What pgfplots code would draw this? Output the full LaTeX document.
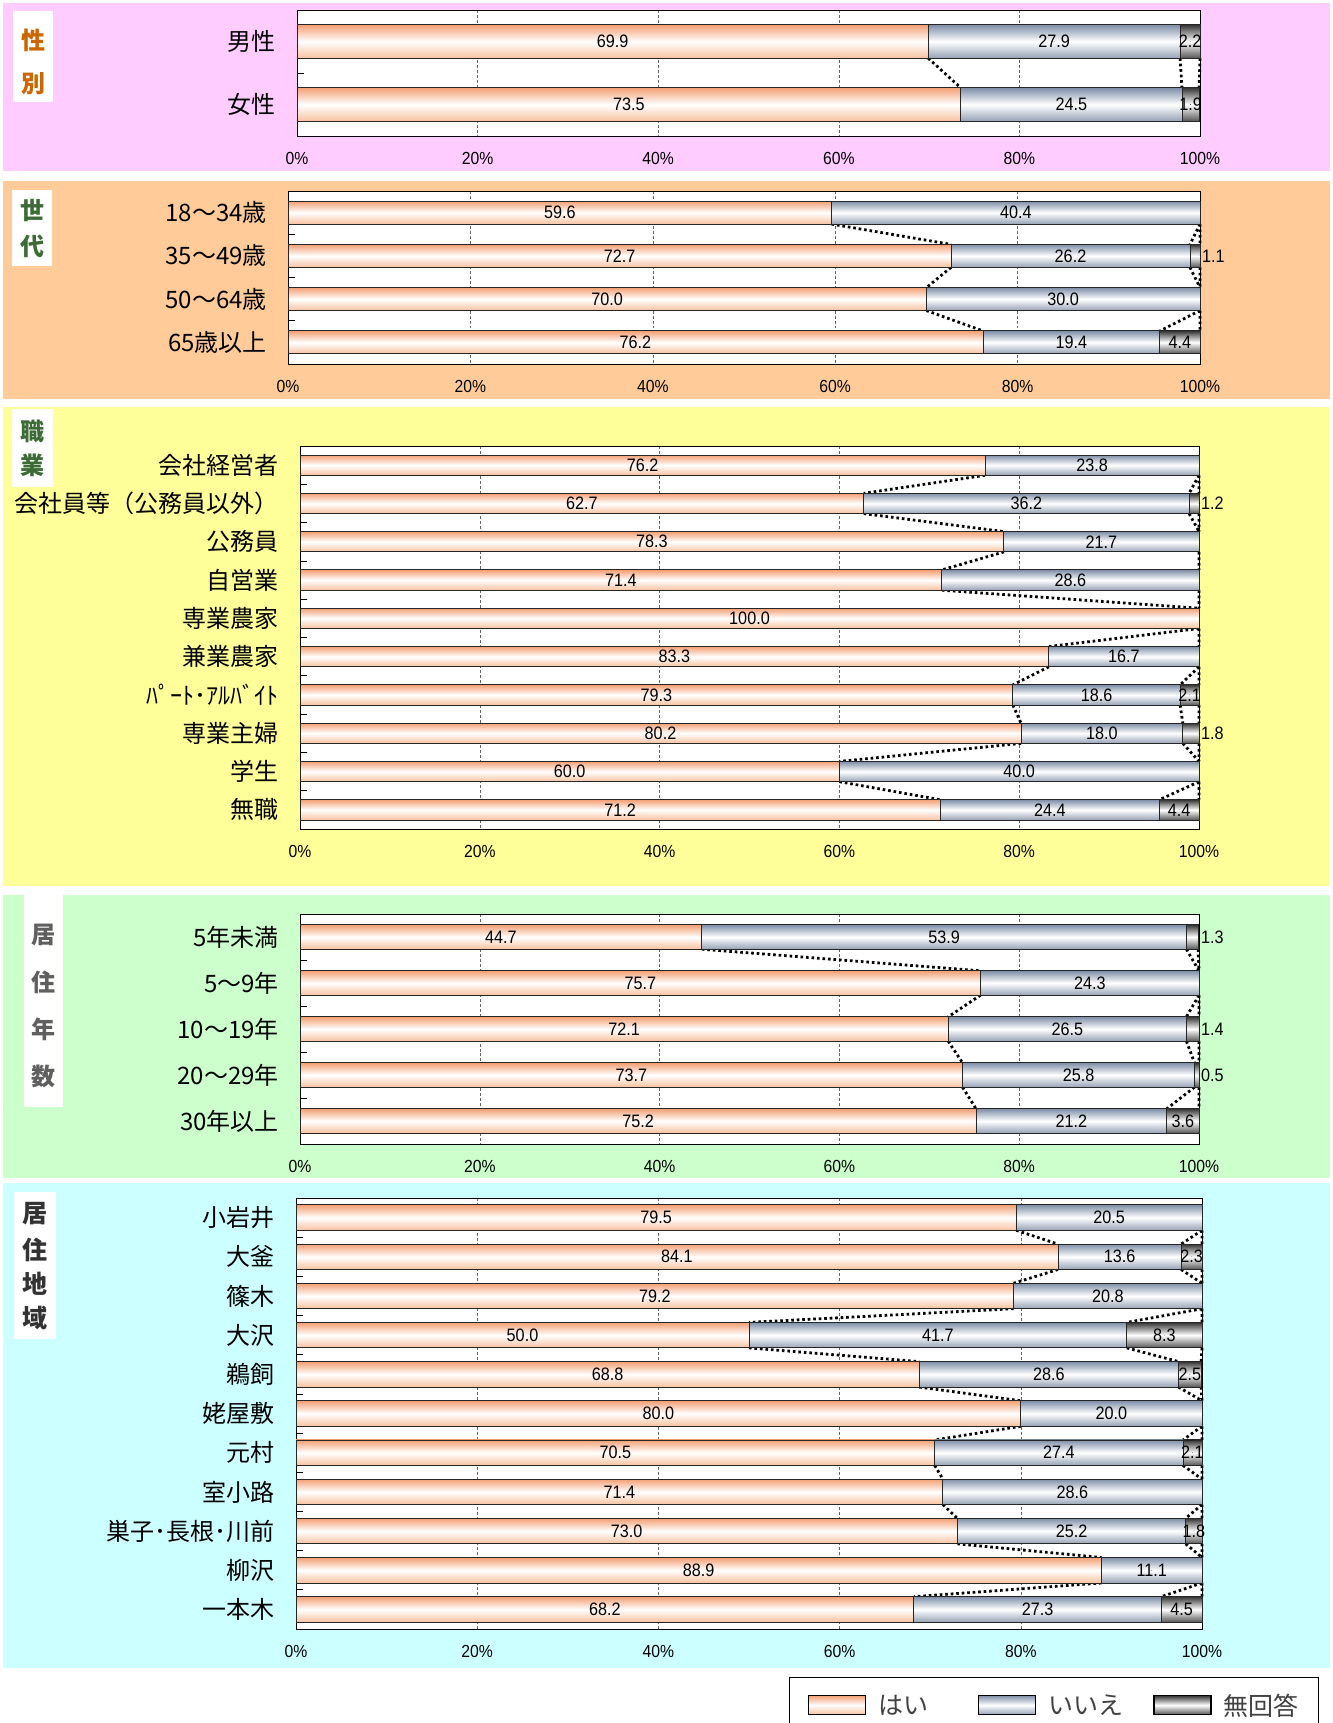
\documentclass[border=0pt]{standalone}
\usepackage{fontspec}
\usepackage{pgfplots}
\usepackage{pgfplotstable}
\pgfplotsset{compat=1.18}
\setmainfont{Noto Sans CJK JP}
\newfontfamily\numfont[FakeStretch=0.9]{Liberation Sans}

\definecolor{bgA}{HTML}{FFCCFF}
\definecolor{bgB}{HTML}{FFCC99}
\definecolor{bgC}{HTML}{FFFF99}
\definecolor{bgD}{HTML}{CCFFCC}
\definecolor{bgE}{HTML}{CCFFFF}
\definecolor{yesT}{HTML}{F3A074}
\definecolor{yesB}{HTML}{F7C2A0}
\definecolor{noT}{HTML}{7F8FA8}
\definecolor{noB}{HTML}{96A2B6}
\definecolor{naT}{HTML}{353535}
\definecolor{naB}{HTML}{555555}
\definecolor{gA}{HTML}{CC6600}
\definecolor{gB}{HTML}{3D6B35}
\definecolor{gD}{HTML}{5F5F5F}
\definecolor{gE}{HTML}{333333}

\pgfplotstableread{
i yes no na nal
0 69.9 27.9 2.2 1
1 73.5 24.5 1.9 1
}\tA
\pgfplotstableread{
i yes no na nal
0 59.6 40.4 0 0
1 72.7 26.2 1.1 2
2 70.0 30.0 0 0
3 76.2 19.4 4.4 1
}\tB
\pgfplotstableread{
i yes no na nal
0 76.2 23.8 0 0
1 62.7 36.2 1.2 2
2 78.3 21.7 0 0
3 71.4 28.6 0 0
4 100.0 0 0 0
5 83.3 16.7 0 0
6 79.3 18.6 2.1 1
7 80.2 18.0 1.8 2
8 60.0 40.0 0 0
9 71.2 24.4 4.4 1
}\tC
\pgfplotstableread{
i yes no na nal
0 44.7 53.9 1.3 2
1 75.7 24.3 0 0
2 72.1 26.5 1.4 2
3 73.7 25.8 0.5 2
4 75.2 21.2 3.6 1
}\tD
\pgfplotstableread{
i yes no na nal
0 79.5 20.5 0 0
1 84.1 13.6 2.3 1
2 79.2 20.8 0 0
3 50.0 41.7 8.3 1
4 68.8 28.6 2.5 1
5 80.0 20.0 0 0
6 70.5 27.4 2.1 1
7 71.4 28.6 0 0
8 73.0 25.2 1.8 1
9 88.9 11.1 0 0
10 68.2 27.3 4.5 1
}\tE

\pgfplotsset{
  /pgf/number format/assume math mode=true,
  panel/.style={
    scale only axis, anchor=north west, clip=false,
    xmin=0, xmax=100, y dir=reverse,
    axis background/.style={fill=white},
    axis line style={black, line width=1bp},
    xtick={0,20,40,60,80,100},
    xticklabel={\pgfmathprintnumber{\tick}\%},
    xticklabel style={font=\numfont\fontsize{17.5bp}{20bp}\selectfont, inner sep=0pt, anchor=center, yshift=-22bp},
    yticklabel style={font=\fontsize{24bp}{28bp}\selectfont, inner sep=0pt, anchor=east, xshift=-21bp},
    tick pos=left, tick align=inside,
    major tick length=0pt, minor tick length=7bp,
    minor tick style={black, line width=0.8bp},
    xmajorgrids, major x grid style={black!60, densely dashed, line width=0.6bp},
  },
  barNA/.style={xbar, bar shift=0pt, draw=black!85, line width=0.9bp, top color=naT, bottom color=naB, middle color=white},
  barNO/.style={xbar, bar shift=0pt, draw=black!85, line width=0.9bp, top color=noT, bottom color=noB, middle color=white},
  barYES/.style={xbar, bar shift=0pt, draw=black!85, line width=0.9bp, top color=yesT, bottom color=yesB, middle color=white},
  legA/.style={legend image code/.code={\path (-18bp,0bp); \draw[##1, draw=black, line width=1.5bp] (0bp,-9.5bp) rectangle (57bp,9.5bp);}},
  legB/.style={legend image code/.code={\path (-38bp,0bp); \draw[##1, draw=black, line width=1.5bp] (0bp,-9.5bp) rectangle (57bp,9.5bp);}},
  legC/.style={legend image code/.code={\draw[##1, draw=black, line width=1.5bp] (0bp,-9.5bp) rectangle (57bp,9.5bp);}},
  conn/.style={forget plot, black, line width=2.8bp, dash pattern=on 2.6bp off 2.9bp, unbounded coords=jump},
  lbl/.style={forget plot, only marks, mark=*, mark size=0.01bp, mark options={draw=none, fill=none},
    point meta=explicit,
    nodes near coords={\pgfmathprintnumber[fixed,fixed zerofill,precision=1]{\pgfplotspointmeta}},
    every node near coord/.style={anchor=center, inner sep=0pt, font=\numfont\fontsize{18bp}{20bp}\selectfont, text=black}},
  lblout/.style={lbl, every node near coord/.style={anchor=west, inner sep=0pt, xshift=2bp, font=\numfont\fontsize{18bp}{20bp}\selectfont, text=black}},
}

% one plot per bar, so that each bar gets its own shading
\newcommand\addbars[2]{%
  \pgfplotsinvokeforeach{0,...,#2}{%
    \addplot[barNA, forget plot, restrict expr to domain={\thisrow{i}}{##1:##1}] table[x expr=\thisrow{yes}+\thisrow{no}+\thisrow{na}, y=i] {#1};
    \addplot[barNO, forget plot, restrict expr to domain={\thisrow{i}}{##1:##1}] table[x expr=\thisrow{yes}+\thisrow{no}, y=i] {#1};
    \addplot[barYES, forget plot, restrict expr to domain={\thisrow{i}}{##1:##1}] table[x=yes, y=i] {#1};
  }%
}
\newcommand\addlabels[1]{%
  \addplot[lbl] table[x expr=\thisrow{yes}/2, y=i, meta=yes] {#1};
  \addplot[lbl, restrict expr to domain={\thisrow{no}}{0.05:1000}] table[x expr=\thisrow{yes}+\thisrow{no}/2, y=i, meta=no] {#1};
  \addplot[lbl, restrict expr to domain={\thisrow{nal}}{0.5:1.5}] table[x expr=\thisrow{yes}+\thisrow{no}+\thisrow{na}/2, y=i, meta=na] {#1};
  \addplot[lblout, restrict expr to domain={\thisrow{nal}}{1.5:2.5}] table[x expr=100, y=i, meta=na] {#1};
}

\begin{document}
\begin{tikzpicture}
\fill[white] (0bp,0bp) rectangle (1333bp,-1723bp);
% panel backgrounds
\fill[bgA] (3bp,-3bp) rectangle (1330bp,-171bp);
\fill[bgB] (3bp,-181bp) rectangle (1330bp,-399bp);
\fill[bgC] (3bp,-407bp) rectangle (1330bp,-886bp);
\fill[bgD] (3bp,-895bp) rectangle (1330bp,-1178bp);
\fill[bgE] (3bp,-1183bp) rectangle (1330bp,-1668bp);
% group labels
\fill[white] (13bp,-11bp) rectangle (53bp,-102bp);
\node[font=\fontsize{24bp}{24bp}\selectfont\bfseries, text=gA] at (33bp,-40bp) {性};
\node[font=\fontsize{24bp}{24bp}\selectfont\bfseries, text=gA] at (33bp,-84bp) {別};
\fill[white] (12bp,-190bp) rectangle (52bp,-266bp);
\node[font=\fontsize{24bp}{24bp}\selectfont\bfseries, text=gB] at (32bp,-211bp) {世};
\node[font=\fontsize{24bp}{24bp}\selectfont\bfseries, text=gB] at (32bp,-246bp) {代};
\fill[white] (12bp,-409bp) rectangle (53bp,-487bp);
\node[font=\fontsize{24bp}{24bp}\selectfont\bfseries, text=gB] at (32bp,-431bp) {職};
\node[font=\fontsize{24bp}{24bp}\selectfont\bfseries, text=gB] at (32bp,-465bp) {業};
\fill[white] (24bp,-895bp) rectangle (63bp,-1107bp);
\node[font=\fontsize{24bp}{24bp}\selectfont\bfseries, text=gD] at (43.5bp,-935bp) {居};
\node[font=\fontsize{24bp}{24bp}\selectfont\bfseries, text=gD] at (43.5bp,-982bp) {住};
\node[font=\fontsize{24bp}{24bp}\selectfont\bfseries, text=gD] at (43.5bp,-1029bp) {年};
\node[font=\fontsize{24bp}{24bp}\selectfont\bfseries, text=gD] at (43.5bp,-1076bp) {数};
\fill[white] (14bp,-1192bp) rectangle (56bp,-1339bp);
\node[font=\fontsize{25bp}{25bp}\selectfont\bfseries, text=gE] at (35bp,-1214bp) {居};
\node[font=\fontsize{25bp}{25bp}\selectfont\bfseries, text=gE] at (35bp,-1250bp) {住};
\node[font=\fontsize{25bp}{25bp}\selectfont\bfseries, text=gE] at (35bp,-1284bp) {地};
\node[font=\fontsize{25bp}{25bp}\selectfont\bfseries, text=gE] at (35bp,-1318bp) {域};

% ---------- Panel 1 ----------
\begin{axis}[panel, at={(297bp,-10bp)}, width=903bp, height=126bp,
  ymin=-0.5, ymax=1.5, bar width=0.53,
  ytick={0,1}, yticklabels={男性,女性}, minor ytick={0.5}]
\addplot[conn] coordinates {(69.9,0.265) (73.5,0.735) (0,nan) (97.8,0.265) (98.0,0.735) (0,nan) (100,0.265) (99.9,0.735)};
\addbars{\tA}{1}
\addlabels{\tA}
\end{axis}

% ---------- Panel 2 ----------
\begin{axis}[panel, at={(288bp,-191bp)}, width=912bp, height=173bp,
  ymin=-0.5, ymax=3.5, bar width=0.53,
  ytick={0,1,2,3}, yticklabels={18～34歳,35～49歳,50～64歳,65歳以上}, minor ytick={0.5,1.5,2.5}]
\addplot[conn] coordinates {(59.6,0.265) (72.7,0.735) (0,nan) (72.7,1.265) (70.0,1.735) (0,nan) (70.0,2.265) (76.2,2.735) (0,nan)
 (100,0.265) (98.9,0.735) (0,nan) (98.9,1.265) (100,1.735) (0,nan) (100,2.265) (95.6,2.735) (0,nan)
 (100,0.265) (100,0.735) (0,nan) (100,1.265) (100,1.735) (0,nan) (100,2.265) (100,2.735)};
\addbars{\tB}{3}
\addlabels{\tB}
\end{axis}

% ---------- Panel 3 ----------
\begin{axis}[panel, at={(300bp,-446bp)}, width=899bp, height=383bp,
  ymin=-0.5, ymax=9.5, bar width=0.53,
  ytick={0,...,9}, yticklabels={会社経営者,会社員等（公務員以外）,公務員,自営業,専業農家,兼業農家,ﾊﾟｰﾄ･ｱﾙﾊﾞｲﾄ,専業主婦,学生,無職},
  minor ytick={0.5,1.5,...,8.5}]
\addplot[conn] coordinates {(76.2,0.265) (62.7,0.735) (0,nan) (62.7,1.265) (78.3,1.735) (0,nan) (78.3,2.265) (71.4,2.735) (0,nan)
 (71.4,3.265) (100,3.735) (0,nan) (100,4.265) (83.3,4.735) (0,nan) (83.3,5.265) (79.3,5.735) (0,nan)
 (79.3,6.265) (80.2,6.735) (0,nan) (80.2,7.265) (60.0,7.735) (0,nan) (60.0,8.265) (71.2,8.735) (0,nan)
 (100,0.265) (98.9,0.735) (0,nan) (98.9,1.265) (100,1.735) (0,nan) (100,5.265) (97.9,5.735) (0,nan)
 (97.9,6.265) (98.2,6.735) (0,nan) (98.2,7.265) (100,7.735) (0,nan) (100,8.265) (95.6,8.735) (0,nan)
 (100,0.265) (100,0.735) (0,nan) (100,1.265) (100,1.735) (0,nan) (100,2.265) (100,2.735) (0,nan)
 (100,3.265) (100,3.735) (0,nan) (100,4.265) (100,4.735) (0,nan) (100,5.265) (100,5.735) (0,nan)
 (100,6.265) (100,6.735) (0,nan) (100,7.265) (100,7.735) (0,nan) (100,8.265) (100,8.735)};
\addbars{\tC}{9}
\addlabels{\tC}
\end{axis}

% ---------- Panel 4 ----------
\begin{axis}[panel, at={(300bp,-914bp)}, width=899bp, height=230bp,
  ymin=-0.5, ymax=4.5, bar width=0.53,
  ytick={0,...,4}, yticklabels={5年未満,5～9年,10～19年,20～29年,30年以上},
  minor ytick={0.5,1.5,...,3.5}]
\addplot[conn] coordinates {(44.7,0.265) (75.7,0.735) (0,nan) (75.7,1.265) (72.1,1.735) (0,nan) (72.1,2.265) (73.7,2.735) (0,nan)
 (73.7,3.265) (75.2,3.735) (0,nan)
 (98.6,0.265) (100,0.735) (0,nan) (100,1.265) (98.6,1.735) (0,nan) (98.6,2.265) (99.5,2.735) (0,nan) (99.5,3.265) (96.4,3.735) (0,nan)
 (99.9,0.265) (100,0.735) (0,nan) (100,1.265) (100,1.735) (0,nan) (100,2.265) (100,2.735) (0,nan) (100,3.265) (100,3.735)};
\addbars{\tD}{4}
\addlabels{\tD}
\end{axis}

% ---------- Panel 5 ----------
\begin{axis}[panel, at={(296bp,-1198bp)}, width=906bp, height=431bp,
  ymin=-0.5, ymax=10.5, bar width=0.65,
  ytick={0,...,10}, yticklabels={小岩井,大釜,篠木,大沢,鵜飼,姥屋敷,元村,室小路,巣子･長根･川前,柳沢,一本木},
  minor ytick={0.5,1.5,...,9.5},
  legend columns=3,
  legend style={at={(axis description cs:0.5442,-0.1114)}, anchor=north west, draw=black, line width=1.3bp, fill=white,
    inner xsep=18bp, inner ysep=14bp, font=\fontsize{25bp}{28bp}\selectfont, text=black!75,
    /tikz/every odd column/.append style={column sep=10bp},
    /tikz/every even column/.append style={column sep=10bp}}]
\addlegendimage{barYES, legC}
\addlegendentry{はい}
\addlegendimage{barNO, legB}
\addlegendentry{いいえ}
\addlegendimage{barNA, legA}
\addlegendentry{無回答}
\addplot[conn] coordinates {(79.5,0.325) (84.1,0.675) (0,nan) (84.1,1.325) (79.2,1.675) (0,nan) (79.2,2.325) (50.0,2.675) (0,nan)
 (50.0,3.325) (68.8,3.675) (0,nan) (68.8,4.325) (80.0,4.675) (0,nan) (80.0,5.325) (70.5,5.675) (0,nan)
 (70.5,6.325) (71.4,6.675) (0,nan) (71.4,7.325) (73.0,7.675) (0,nan) (73.0,8.325) (88.9,8.675) (0,nan)
 (88.9,9.325) (68.2,9.675) (0,nan)
 (100,0.325) (97.7,0.675) (0,nan) (97.7,1.325) (100,1.675) (0,nan) (100,2.325) (91.7,2.675) (0,nan)
 (91.7,3.325) (97.4,3.675) (0,nan) (97.4,4.325) (100,4.675) (0,nan) (100,5.325) (97.9,5.675) (0,nan)
 (97.9,6.325) (100,6.675) (0,nan) (100,7.325) (98.2,7.675) (0,nan) (98.2,8.325) (100,8.675) (0,nan)
 (100,9.325) (95.5,9.675) (0,nan)
 (100,0.325) (100,0.675) (0,nan) (100,1.325) (100,1.675) (0,nan) (100,2.325) (100,2.675) (0,nan)
 (100,3.325) (99.9,3.675) (0,nan) (99.9,4.325) (100,4.675) (0,nan) (100,5.325) (100,5.675) (0,nan)
 (100,6.325) (100,6.675) (0,nan) (100,7.325) (100,7.675) (0,nan) (100,8.325) (100,8.675) (0,nan)
 (100,9.325) (100,9.675)};
\addbars{\tE}{10}
\addlabels{\tE}
\end{axis}

\pgfresetboundingbox
\useasboundingbox (0bp,0bp) rectangle (1333bp,-1723bp);
\end{tikzpicture}
\end{document}
